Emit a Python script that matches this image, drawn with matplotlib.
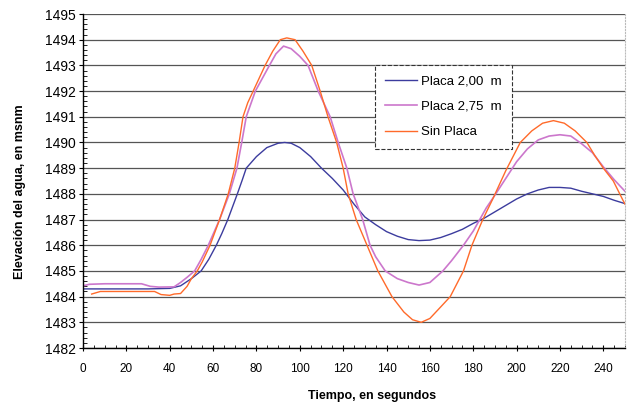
import numpy as np
import matplotlib
matplotlib.use("Agg")
import matplotlib.pyplot as plt
from matplotlib.ticker import MultipleLocator

plt.rcParams['font.family'] = ['Liberation Sans', 'DejaVu Sans']

# Elevation of the water surface (m a.s.l.) versus time (s)
t_placa200 = [0, 5, 10, 20, 30, 40, 45, 50, 54.5, 58, 61.5, 64, 66.8, 69, 71.2, 73.5,
              75.3, 80, 84.8, 90, 93, 96, 100, 105, 110, 115, 120, 125, 130, 135, 140,
              145, 150, 155, 160, 165, 170, 175, 180, 185, 190, 195, 200, 205, 210,
              215, 220, 225, 230, 235, 240, 245, 250]
h_placa200 = [1484.30, 1484.30, 1484.30, 1484.30, 1484.30, 1484.32, 1484.42, 1484.70,
              1485.00, 1485.45, 1486.00, 1486.45, 1487.00, 1487.50, 1488.00, 1488.55,
              1489.00, 1489.45, 1489.80, 1489.97, 1490.00, 1489.97, 1489.80, 1489.45,
              1489.00, 1488.60, 1488.15, 1487.60, 1487.10, 1486.80, 1486.53, 1486.35,
              1486.22, 1486.18, 1486.20, 1486.30, 1486.45, 1486.62, 1486.85, 1487.05,
              1487.30, 1487.55, 1487.80, 1488.00, 1488.15, 1488.25, 1488.25, 1488.22,
              1488.10, 1488.00, 1487.90, 1487.75, 1487.62]

t_placa275 = [0, 3, 10, 20, 27, 31, 35, 42, 45, 48, 51.5, 54.5, 57.8, 63, 67.5, 71,
              73.2, 75.3, 79.5, 86, 89, 92.5, 96, 100, 103.8, 108.5, 114, 117.7, 121.7,
              124.6, 129, 132.4, 135, 139.4, 145, 150, 155, 160, 166, 170, 175.5, 180,
              183, 186, 190, 195, 200, 205, 210, 215, 220, 225, 230, 235, 240, 245, 250]
h_placa275 = [1484.42, 1484.48, 1484.50, 1484.50, 1484.50, 1484.40, 1484.37, 1484.38,
              1484.55, 1484.75, 1485.00, 1485.45, 1486.00, 1487.00, 1488.00, 1489.00,
              1490.00, 1491.00, 1492.00, 1493.00, 1493.45, 1493.75, 1493.65, 1493.35,
              1493.00, 1492.00, 1491.00, 1490.00, 1489.00, 1488.00, 1487.00, 1486.00,
              1485.55, 1485.00, 1484.70, 1484.55, 1484.45, 1484.55, 1485.00, 1485.40,
              1486.00, 1486.55, 1487.00, 1487.45, 1487.95, 1488.60, 1489.25, 1489.75,
              1490.10, 1490.25, 1490.30, 1490.25, 1489.95, 1489.60, 1489.05, 1488.55,
              1488.10]

t_sinplaca = [4, 8, 20, 33, 36, 40, 42, 45, 48, 50, 52.7, 55, 58.6, 63, 67, 70, 72,
              73.8, 76, 78.5, 84, 87.5, 91, 94, 97.8, 101.5, 105.5, 109.4, 113, 117,
              120, 122.3, 126, 131, 136, 142.5, 148, 152, 156, 160, 165, 169.4, 175.5,
              179.4, 184.4, 189, 195, 201.7, 207, 212, 217, 222, 227, 232.4, 236, 240,
              244.6, 249, 250]
h_sinplaca = [1484.10, 1484.20, 1484.20, 1484.20, 1484.08, 1484.05, 1484.10, 1484.12,
              1484.40, 1484.70, 1485.00, 1485.35, 1486.00, 1487.00, 1488.00, 1489.00,
              1490.00, 1491.00, 1491.55, 1492.00, 1493.00, 1493.55, 1494.00, 1494.07,
              1494.00, 1493.55, 1493.00, 1492.00, 1491.00, 1490.00, 1489.00, 1488.00,
              1487.00, 1486.00, 1485.00, 1484.00, 1483.40, 1483.10, 1483.00, 1483.15,
              1483.60, 1484.00, 1485.00, 1486.00, 1487.00, 1487.80, 1488.90, 1490.00,
              1490.45, 1490.75, 1490.85, 1490.75, 1490.45, 1490.00, 1489.50, 1489.00,
              1488.50, 1487.76, 1487.60]

fig = plt.figure(figsize=(6.34, 4.09), dpi=100)
ax = fig.add_axes([83 / 634, 1 - 348 / 409, 542 / 634, 334 / 409])

ax.plot(t_placa200, h_placa200, color='#3c3c9e', lw=1.0, label='Placa 2,00  m')
ax.plot(t_placa275, h_placa275, color='#cc77cc', lw=1.2, label='Placa 2,75  m')
ax.plot(t_sinplaca, h_sinplaca, color='#ff6a2a', lw=1.0, label='Sin Placa')

ax.set_xlim(0, 250)
ax.set_ylim(1482, 1495)
ax.xaxis.set_major_locator(MultipleLocator(20))
ax.xaxis.set_minor_locator(MultipleLocator(5))
ax.yaxis.set_major_locator(MultipleLocator(1))
ax.yaxis.set_minor_locator(MultipleLocator(0.2))

ax.yaxis.grid(True, color='#555555', lw=0.9)
ax.set_axisbelow(True)

ax.spines['top'].set_visible(False)
ax.spines['right'].set_color('#bbbbbb')
ax.spines['right'].set_linestyle(':')
ax.spines['left'].set_linewidth(1.0)
ax.spines['bottom'].set_linewidth(1.0)

ax.tick_params(axis='y', which='major', direction='out', length=3, labelsize=10, pad=2)
ax.tick_params(axis='y', which='minor', direction='in', length=3)
ax.tick_params(axis='x', which='major', direction='inout', length=5, labelsize=8.5, pad=8)
ax.tick_params(axis='x', which='minor', direction='in', length=2)

fig.text(372 / 634, 1 - 396 / 409, 'Tiempo, en segundos', ha='center', va='center',
         fontsize=9, fontweight='bold')
fig.text(20 / 634, 1 - 192 / 409, 'Elevación del agua, en msnm', ha='center', va='center',
         rotation=90, fontsize=9, fontweight='bold')

leg = ax.legend(loc='upper left', bbox_to_anchor=(0.526, 0.868), fontsize=9.5,
                frameon=True, fancybox=False, edgecolor='#333333', framealpha=1,
                handlelength=2.4, labelspacing=1.0, borderpad=0.8, handletextpad=0.3)
leg.get_frame().set_linewidth(0.8)
leg.get_frame().set_linestyle('--')

fig.savefig('out.png', dpi=100)
